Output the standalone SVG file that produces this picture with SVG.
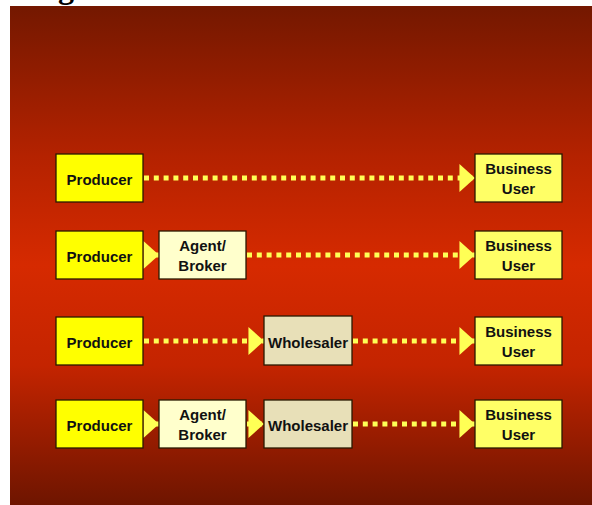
<svg xmlns="http://www.w3.org/2000/svg" width="592" height="505" viewBox="0 0 592 505">
  <defs>
    <linearGradient id="bg" x1="0" y1="0" x2="0" y2="1">
      <stop offset="0" stop-color="#741800"/>
      <stop offset="0.3" stop-color="#b42200"/>
      <stop offset="0.52" stop-color="#d62a00"/>
      <stop offset="0.72" stop-color="#c42400"/>
      <stop offset="1" stop-color="#6e1500"/>
    </linearGradient>
    <marker id="tri" markerUnits="userSpaceOnUse" markerWidth="16" markerHeight="28" viewBox="0 0 15 27" refX="15" refY="13.5" orient="auto">
      <path d="M0,0 L15,13.5 L0,27 Z" fill="#ffff55"/>
    </marker>
    <style>
      .box { stroke: #2a1a00; stroke-width: 1.3; }
      .prod { fill: #ffff00; }
      .user { fill: #ffff66; }
      .agent { fill: #ffffcc; }
      .whole { fill: #e8e0b8; }
      .lbl { font-family: "Liberation Sans", Arial, sans-serif; font-weight: bold; font-size: 15px; fill: #111; text-anchor: middle; }
      .dots { fill: none; stroke: #ffff55; stroke-width: 5; stroke-dasharray: 5 4.8; marker-end: url(#tri); }
    </style>
  </defs>
  <rect x="10" y="6" width="582" height="499" fill="url(#bg)"/>
  <text x="58" y="-2" font-family="Liberation Serif, serif" font-weight="bold" font-size="32" fill="#000">g</text>

  <g id="connectors">
    <path class="dots" d="M144,178 L475,178"/>
    <path class="dots" d="M144,255 L159,255"/>
    <path class="dots" d="M247,255 L475,255"/>
    <path class="dots" d="M144,341 L264,341"/>
    <path class="dots" d="M353,341 L475,341"/>
    <path class="dots" d="M144,424 L159,424"/>
    <path class="dots" d="M247,424 L264,424"/>
    <path class="dots" d="M353,424 L475,424"/>
  </g>

  <g id="producer1"><rect class="box prod" x="56" y="154" width="87" height="48"/><text class="lbl" x="99.5" y="185">Producer</text></g>
  <g id="user1"><rect class="box user" x="475" y="154" width="87" height="48"/><text class="lbl" x="518.5" y="174">Business</text><text class="lbl" x="518.5" y="194">User</text></g>

  <g id="producer2"><rect class="box prod" x="56" y="231" width="87" height="48"/><text class="lbl" x="99.5" y="262">Producer</text></g>
  <g id="agent2"><rect class="box agent" x="159" y="231" width="87" height="48"/><text class="lbl" x="202.5" y="251">Agent/</text><text class="lbl" x="202.5" y="271">Broker</text></g>
  <g id="user2"><rect class="box user" x="475" y="231" width="87" height="48"/><text class="lbl" x="518.5" y="251">Business</text><text class="lbl" x="518.5" y="271">User</text></g>

  <g id="producer3"><rect class="box prod" x="56" y="317" width="87" height="48"/><text class="lbl" x="99.5" y="348">Producer</text></g>
  <g id="wholesaler3"><rect class="box whole" x="264" y="316" width="88" height="49"/><text class="lbl" x="308" y="348">Wholesaler</text></g>
  <g id="user3"><rect class="box user" x="475" y="317" width="87" height="48"/><text class="lbl" x="518.5" y="337">Business</text><text class="lbl" x="518.5" y="357">User</text></g>

  <g id="producer4"><rect class="box prod" x="56" y="400" width="87" height="48"/><text class="lbl" x="99.5" y="431">Producer</text></g>
  <g id="agent4"><rect class="box agent" x="159" y="400" width="87" height="48"/><text class="lbl" x="202.5" y="420">Agent/</text><text class="lbl" x="202.5" y="440">Broker</text></g>
  <g id="wholesaler4"><rect class="box whole" x="264" y="400" width="88" height="48"/><text class="lbl" x="308" y="431">Wholesaler</text></g>
  <g id="user4"><rect class="box user" x="475" y="400" width="87" height="48"/><text class="lbl" x="518.5" y="420">Business</text><text class="lbl" x="518.5" y="440">User</text></g>
</svg>
